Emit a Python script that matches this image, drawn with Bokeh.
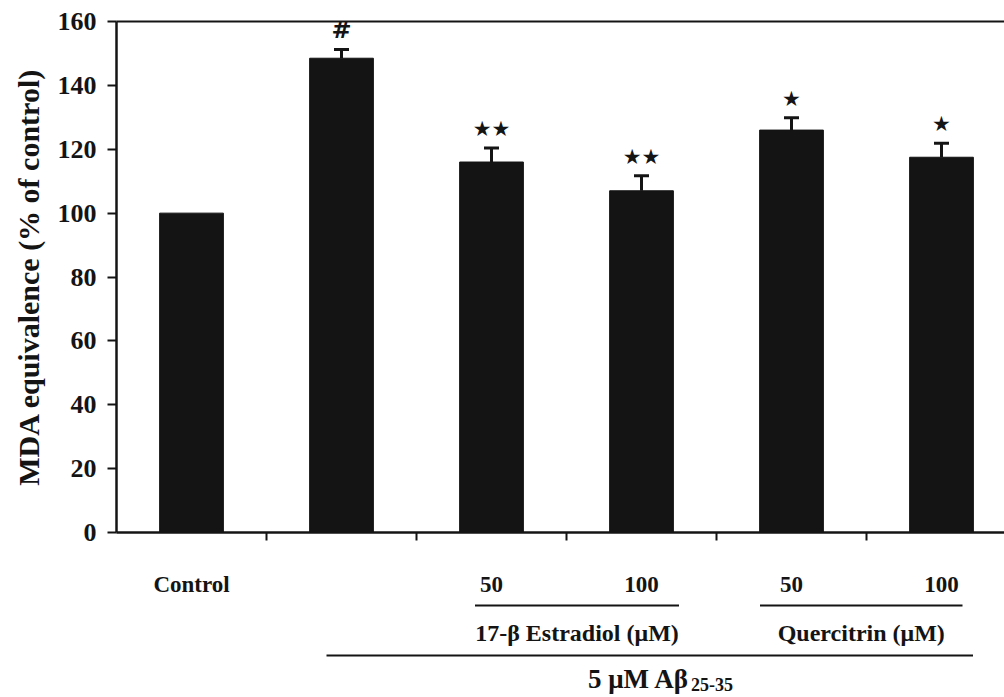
import numpy as np
from bokeh.plotting import figure
from bokeh.models import Range1d, FixedTicker, LinearAxis, ColumnDataSource
from bokeh.layouts import column
from bokeh.core.properties import value
from bokeh.embed import file_html
from bokeh.resources import INLINE

# ---- data -------------------------------------------------------------
categories = ["Control", "", "50", "100", "50", "100"]
mda_pct = [100, 148.5, 116, 107, 126, 117.5]      # MDA equivalence (% of control)
sem_pct = [0, 2.7, 4.4, 4.7, 3.9, 4.4]            # upper error bars
signif = ["", "#", "★★", "★★", "★", "★"]
y_ticks = [0, 20, 40, 60, 80, 100, 120, 140, 160]

treatments = ["17-β Estradiol (μM)", "Quercitrin (μM)"]
treat_from = [2.39, 4.29]
treat_to = [3.75, 5.64]
abeta_label = "5 μM Aβ"
abeta_sub = "25-35"
abeta_from, abeta_to = 1.40, 5.71

# ---- styling ----------------------------------------------------------
SERIF = "Liberation Serif"
INK = "#141414"
BAR_W = 0.425
CAP_W = 0.1

x = np.arange(len(categories)) + 0.5
top = np.array(mda_pct, dtype=float)
err = np.array(sem_pct, dtype=float)

p = figure(width=1004, height=599,
           x_range=Range1d(0, 5.92), y_range=Range1d(0, 160),
           x_axis_type=None, y_axis_type=None,
           output_backend="svg", toolbar_location=None,
           min_border_left=116, min_border_right=0,
           min_border_top=21, min_border_bottom=66)
p.outline_line_color = None
p.background_fill_color = "white"
p.border_fill_color = "white"

# y axis
yax = LinearAxis(ticker=FixedTicker(ticks=y_ticks),
                 axis_label="MDA equivalence (% of control)")
yax.axis_line_width = 2.5
yax.axis_line_color = INK
yax.major_tick_line_color = INK
yax.major_tick_line_width = 2
yax.major_tick_in = 0
yax.major_tick_out = 9
yax.minor_tick_line_color = None
yax.major_label_standoff = 11
yax.major_label_text_font = SERIF
yax.major_label_text_font_style = "bold"
yax.major_label_text_font_size = "26px"
yax.major_label_text_color = INK
yax.axis_label_text_font = SERIF
yax.axis_label_text_font_style = "bold"
yax.axis_label_text_font_size = "30px"
yax.axis_label_text_color = INK
yax.axis_label_standoff = 10
p.add_layout(yax, "left")

# x axis: labels at bar centres, ticks on category boundaries
xax = LinearAxis(ticker=FixedTicker(ticks=list(x), minor_ticks=[1, 2, 3, 4, 5]),
                 major_label_overrides={float(c): lab for c, lab in zip(x, categories)})
xax.axis_line_width = 2.5
xax.axis_line_color = INK
xax.major_tick_line_color = None
xax.major_tick_out = 0
xax.major_tick_in = 0
xax.minor_tick_line_color = INK
xax.minor_tick_line_width = 2
xax.minor_tick_in = 0
xax.minor_tick_out = 8
xax.major_label_standoff = 31
xax.major_label_text_font = SERIF
xax.major_label_text_font_style = "bold"
xax.major_label_text_font_size = "23px"
xax.major_label_text_color = INK
p.add_layout(xax, "below")

# top frame line
tax = LinearAxis(ticker=FixedTicker(ticks=[]))
tax.axis_line_width = 2
tax.axis_line_color = INK
tax.major_tick_line_color = None
tax.minor_tick_line_color = None
p.add_layout(tax, "above")

# bars
p.vbar(x=x, top=top, width=BAR_W, fill_color=INK, line_color=INK)

# upper error bars
has_err = err > 0
ex = x[has_err]
etop = (top + err)[has_err]
p.segment(x0=ex, y0=top[has_err], x1=ex, y1=etop, line_color=INK, line_width=3)
p.segment(x0=ex - CAP_W / 2, y0=etop, x1=ex + CAP_W / 2, y1=etop,
          line_color=INK, line_width=3)

# significance marks
hash_idx = [i for i, s in enumerate(signif) if s == "#"]
star_idx = [i for i, s in enumerate(signif) if s.startswith("★")]
hash_src = ColumnDataSource(dict(x=x[hash_idx], y=(top + err)[hash_idx],
                                 t=[signif[i] for i in hash_idx]))
star_src = ColumnDataSource(dict(x=x[star_idx], y=(top + err)[star_idx],
                                 t=[signif[i] for i in star_idx]))
p.text(x="x", y="y", text="t", source=hash_src, y_offset=-20,
       text_align="center", text_baseline="middle",
       text_font=value("DejaVu Serif"), text_font_style="bold italic",
       text_font_size="24px", text_color=INK)
p.text(x="x", y="y", text="t", source=star_src, y_offset=-19,
       text_align="center", text_baseline="middle",
       text_font=value("DejaVu Sans"), text_font_size="21px", text_color=INK)

# ---- treatment brackets below the axis --------------------------------
q = figure(width=1004, height=98,
           x_range=p.x_range, y_range=Range1d(0, 98),
           x_axis_type=None, y_axis_type=None,
           output_backend="svg", toolbar_location=None,
           min_border_left=116, min_border_right=0,
           min_border_top=0, min_border_bottom=0)
q.outline_line_color = None
q.background_fill_color = "white"
q.border_fill_color = "white"

tf = np.array(treat_from)
tt = np.array(treat_to)
q.segment(x0=tf, y0=92, x1=tt, y1=92, line_color=INK, line_width=2)
q.text(x=(tf + tt) / 2, y=65, text=treatments,
       text_align="center", text_baseline="middle",
       text_font=value(SERIF), text_font_style="bold",
       text_font_size="24px", text_color=INK)

q.segment(x0=[abeta_from], y0=42, x1=[abeta_to], y1=42, line_color=INK, line_width=2)
split_x = 3.82
q.text(x=[split_x], y=19, text=[abeta_label],
       text_align="right", text_baseline="middle",
       text_font=value(SERIF), text_font_style="bold",
       text_font_size="27px", text_color=INK)
q.text(x=[split_x + 0.01], y=13, text=[abeta_sub],
       text_align="left", text_baseline="middle",
       text_font=value(SERIF), text_font_style="bold",
       text_font_size="18px", text_color=INK)

layout = column(p, q, spacing=0)
open("out.html", "w").write(file_html(layout, INLINE))
